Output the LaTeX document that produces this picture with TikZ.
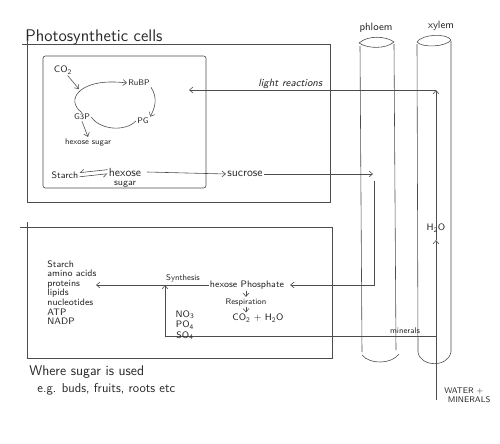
\documentclass[tikz,border=0pt]{standalone}
\usepackage{tikz}
\usetikzlibrary{arrows.meta, positioning}
\renewcommand{\familydefault}{\sfdefault}
\begin{document}
\begin{tikzpicture}[
  x=0.03cm, y=-0.03cm,
  every node/.style={inner sep=1pt, text=black!85},
  ln/.style={draw=black!70, line width=0.5pt},
  arr/.style={ln, -{Straight Barb[length=3pt, width=5pt]}},
  harp/.style={ln, -{Straight Barb[right, length=3pt, width=5pt]}},
  box/.style={ln},
  tube/.style={ln},
  lbl/.style={font=\footnotesize},
  small lbl/.style={font=\scriptsize}
]
  \useasboundingbox (0,0) rectangle (500,443);

  % boxes
  \node[anchor=south west, font=\Large] (title) at (24,46) {Photosynthetic cells};
  \draw[box] (22,44) -| (330,202) -| (27,40);
  \draw[box, rounded corners=2pt] (43,56) rectangle (206,188);
  \draw[box] (20,227) -| (332,358) -| (27,222);

  % phloem and xylem tubes
  \draw[tube] (359,43) .. controls (368,35) and (386,36) .. (394,42) .. controls (386,49) and (368,49) .. (359,43);
  \draw[tube] (360,46) -- (362,352);
  \draw[tube] (394,44) -- (396,350);
  \draw[tube] (362,355) .. controls (370,365) and (392,364) .. (399,354);
  \draw[tube] (417,42) .. controls (422,34) and (447,33) .. (451,40) .. controls (446,47) and (422,48) .. (417,42);
  \draw[tube] (417,44) -- (418,352) .. controls (420,367) and (448,368) .. (451,352) -- (451,41);
  \node[font=\small] (phloem) at (376,28) {phloem};
  \node[font=\small] (xylem) at (441,26) {xylem};

  % Calvin cycle
  \node[lbl] (co2) at (63,70) {CO\textsubscript{2}};
  \node[small lbl] (rubp) at (139,83) {RuBP};
  \node[small lbl] (pg) at (143,121) {PG};
  \node[small lbl] (g3p) at (82,117) {G3P};
  \node[small lbl] (hexs) at (88,142) {hexose sugar};
  \coordinate (cyc) at (79,89);
  \draw[arr] (co2) -- (cyc);
  \draw[arr] (g3p.north) .. controls (64,100) and (80,77) .. (rubp.west);
  \draw[arr] (rubp.south east) .. controls (158,98) and (155,108) .. (pg.north east);
  \draw[ln] (pg.west) .. controls (125,132) and (100,130) .. (g3p.east);
  \draw[arr] (g3p.south) -- (hexs.north);

  % starch, hexose and sucrose
  \node[lbl] (starch) at (65,175) {Starch};
  \node[font=\normalsize] (hex) at (125,172) {hexose};
  \node[lbl, below=1.5pt of hex] (sugar) {sugar};
  \draw[harp] ([yshift=2pt]hex.west) -- ([yshift=2pt]starch.east);
  \draw[harp] ([yshift=-1.5pt]starch.east) -- ([yshift=-1.5pt]hex.west);
  \node[font=\normalsize] (sucrose) at (245,174) {sucrose};
  \draw[arr] ([xshift=4pt]hex.east) -- (sucrose.west);
  \coordinate (phin) at (373,174);
  \coordinate (phout) at (374,181);
  \draw[arr] (sucrose.east) -- (phin);

  % light reactions and water
  \coordinate (xtop) at (436,90);
  \coordinate (xmid) at (436,240);
  \coordinate (xbot) at (436,400);
  \coordinate (lite) at (189,90);
  \draw[arr] (xtop) -- node[pos=0.59, above, font=\small\itshape] (light) {light reactions} (lite);
  \draw[arr] (xbot) -- (xmid);
  \draw[arr] (xmid) -- (xtop);
  \node[lbl] (h2o) at (436,228) {H\textsubscript{2}O};
  \node[small lbl, align=left, anchor=north west] (water) at (443,386) {WATER +\\\hspace{3pt}MINERALS};

  % where sugar is used
  \node[lbl] (hexp) at (247,285) {hexose Phosphate};
  \draw[arr] (phout) |- ([xshift=4pt]hexp.east);
  \node[small lbl] (resp) at (246,302) {Respiration};
  \node[lbl] (co2b) at (258,318) {CO\textsubscript{2} + H\textsubscript{2}O};
  \draw[arr] (hexp.south -| resp.north) -- (resp.north);
  \draw[arr] (resp.south) -- (resp.south |- co2b.north);
  \node[small lbl] (synth) at (183,278) {Synthesis};
  \coordinate (listin) at (96,285);
  \coordinate (synj) at (165,285);
  \draw[arr] (hexp.west) -- (listin);
  \coordinate (xmin) at (436,336);
  \draw[arr] (xmin) -| (synj);
  \node[small lbl] (minerals) at (405,331) {minerals};
  \node[align=center, font={\fontsize{8}{9}\selectfont}] (ions) at (185,325) {NO\textsubscript{3}\\PO\textsubscript{4}\\SO\textsubscript{4}};
  \node[anchor=north west, align=left, font={\fontsize{8}{8.2}\selectfont}] (uses) at (46,259)
    {Starch\\amino acids\\proteins\\lipids\\nucleotides\\ATP\\NADP};
  \node[anchor=west, font=\large] (where) at (28,372) {Where sugar is used};
  \node[anchor=west, font={\fontsize{11}{13}\selectfont}] (eg) at (36,389) {e.g. buds, fruits, roots etc};
\end{tikzpicture}
\end{document}
